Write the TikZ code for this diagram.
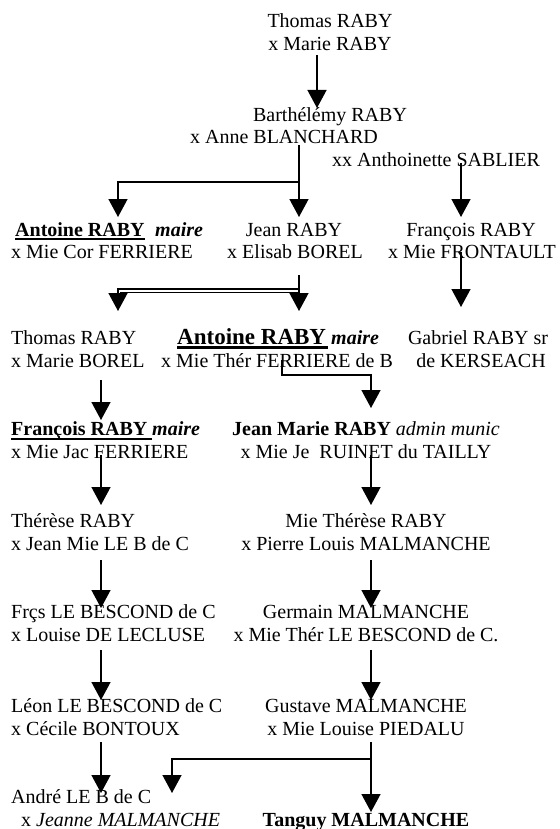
\documentclass[tikz,border=0pt]{standalone}
\usepackage{fontspec}
\setmainfont{Liberation Serif}
\newfontfamily\bigserif{Liberation Serif}
\usetikzlibrary{arrows.meta}
\begin{document}
\begin{tikzpicture}[x=1pt,y=-1pt,
  txt/.style={inner sep=0pt,font=\fontsize{20}{23}\selectfont},
  big/.style={inner sep=0pt,font=\bigserif\fontsize{23}{27}\selectfont\bfseries},
  arr/.style={line width=1.4pt,-{Triangle[width=19pt,length=18pt]}},
  uline/.style={line width=2pt}]
\useasboundingbox (0,0) rectangle (559,829);
% row 1
\node[txt,anchor=base] (n1a) at (330,28) {Thomas RABY};
\node[txt,anchor=base] (n1b) at (330,51) {x Marie RABY};
% row 2
\node[txt,anchor=base] (n2a) at (330,122) {Barthélémy RABY};
\node[txt,anchor=base] (n2b) at (284,144) {x Anne BLANCHARD};
\node[txt,anchor=base] (n2c) at (436,167) {xx Anthoinette SABLIER};
% row 3
\node[txt,anchor=base west] (n3a) at (15,236) {\textbf{Antoine RABY}};
\node[txt,anchor=base west] (n3am) at (155,236) {\textbf{\textit{maire}}};
\node[txt,anchor=base west] (n3b) at (11,258) {x Mie Cor FERRIERE};
\node[txt,anchor=base] (n3c) at (294,236) {Jean RABY};
\node[txt,anchor=base] (n3d) at (295,258) {x Elisab BOREL};
\node[txt,anchor=base] (n3e) at (471,236) {François RABY};
\node[txt,anchor=base] (n3f) at (472,258) {x Mie FRONTAULT};
% row 4
\node[txt,anchor=base west] (n4a) at (11,344) {Thomas RABY};
\node[txt,anchor=base west] (n4b) at (11,367) {x Marie BOREL};
\node[big,anchor=base west] (n4c) at (177,344) {Antoine RABY};
\node[txt,anchor=base west] (n4cm) at (331,344) {\textbf{\textit{maire}}};
\node[txt,anchor=base] (n4d) at (277,367) {x Mie Thér FERRIERE de B};
\node[txt,anchor=base] (n4e) at (478,344) {Gabriel RABY sr};
\node[txt,anchor=base] (n4f) at (481,367) {de KERSEACH};
% row 5
\node[txt,anchor=base west] (n5a) at (11,435) {\textbf{François RABY}};
\node[txt,anchor=base west] (n5am) at (152,435) {\textbf{\textit{maire}}};
\node[txt,anchor=base west] (n5b) at (11,458) {x Mie Jac FERRIERE};
\node[txt,anchor=base] (n5c) at (366,435) {\textbf{Jean Marie RABY} \textit{admin munic}};
\node[txt,anchor=base] (n5d) at (366,458) {x Mie Je\ \ RUINET du TAILLY};
% row 6
\node[txt,anchor=base west] (n6a) at (11,527) {Thérèse RABY};
\node[txt,anchor=base west] (n6b) at (11,550) {x Jean Mie LE B de C};
\node[txt,anchor=base] (n6c) at (366,527) {Mie Thérèse RABY};
\node[txt,anchor=base] (n6d) at (366,550) {x Pierre Louis MALMANCHE};
% row 7
\node[txt,anchor=base west] (n7a) at (11,618) {Frçs LE BESCOND de C};
\node[txt,anchor=base west] (n7b) at (11,641) {x Louise DE LECLUSE};
\node[txt,anchor=base] (n7c) at (366,618) {Germain MALMANCHE};
\node[txt,anchor=base] (n7d) at (366,641) {x Mie Thér LE BESCOND de C.};
% row 8
\node[txt,anchor=base west] (n8a) at (11,712) {Léon LE BESCOND de C};
\node[txt,anchor=base west] (n8b) at (11,735) {x Cécile BONTOUX};
\node[txt,anchor=base] (n8c) at (366,712) {Gustave MALMANCHE};
\node[txt,anchor=base] (n8d) at (366,735) {x Mie Louise PIEDALU};
% row 9
\node[txt,anchor=base west] (n9a) at (11,803) {André LE B de C};
\node[txt,anchor=base west] (n9b) at (21,826) {x \textit{Jeanne MALMANCHE}};
\node[txt,anchor=base] (n9c) at (366,826) {\textbf{Tanguy MALMANCHE}};
% underlines
\draw[uline] (15,238.5) -- (145,238.5);
\draw[uline,line width=2.5pt] (177,347.5) -- (328,347.5);
\draw[uline,line width=1.6pt] (11,439) -- (152,439);
% connector points
\coordinate (a1s) at (317,55);   \coordinate (a1e) at (317,108);
\coordinate (b1s) at (299,145);  \coordinate (b1m) at (299,182);
\coordinate (b1l) at (118,182);  \coordinate (b1le) at (118,217);
\coordinate (b1e) at (299,217);
\coordinate (c1s) at (461,163);  \coordinate (c1e) at (461,217);
\coordinate (d1s) at (299,275);  \coordinate (d1m) at (299,289);
\coordinate (d1l) at (118,289);  \coordinate (d1le) at (118,311);
\coordinate (d1e) at (299,311);
\coordinate (d2s) at (299,292);  \coordinate (d2l) at (120,292);
\coordinate (e1s) at (461,252);  \coordinate (e1e) at (461,307);
\coordinate (f1s) at (101,380);  \coordinate (f1e) at (101,420);
\coordinate (g1s) at (282,360);  \coordinate (g1m) at (282,375);
\coordinate (g1r) at (371,375);  \coordinate (g1e) at (371,408);
\coordinate (h1s) at (101,455);  \coordinate (h1e) at (101,505);
\coordinate (h2s) at (371,455);  \coordinate (h2e) at (371,505);
\coordinate (i1s) at (101,560);  \coordinate (i1e) at (101,608);
\coordinate (i2s) at (371,560);  \coordinate (i2e) at (371,608);
\coordinate (j1s) at (101,650);  \coordinate (j1e) at (101,700);
\coordinate (j2s) at (371,650);  \coordinate (j2e) at (371,700);
\coordinate (k1s) at (101,742);  \coordinate (k1e) at (101,793);
\coordinate (k2s) at (371,742);  \coordinate (k2e) at (371,812);
\coordinate (k2m) at (371,759);  \coordinate (k2l) at (172,759);
\coordinate (k2le) at (172,793);
% connectors
\draw[arr] (a1s) -- (a1e);
\draw[arr] (b1s) -- (b1e);
\draw[arr] (b1m) -- (b1l) -- (b1le);
\draw[arr] (c1s) -- (c1e);
\draw[arr] (d1s) -- (d1e);
\draw[arr] (d1m) -- (d1l) -- (d1le);
\draw[line width=1pt] (d2s) -- (d2l);
\draw[arr] (e1s) -- (e1e);
\draw[arr] (f1s) -- (f1e);
\draw[arr] (g1s) -- (g1m) -- (g1r) -- (g1e);
\draw[arr] (h1s) -- (h1e);
\draw[arr] (h2s) -- (h2e);
\draw[arr] (i1s) -- (i1e);
\draw[arr] (i2s) -- (i2e);
\draw[arr] (j1s) -- (j1e);
\draw[arr] (j2s) -- (j2e);
\draw[arr] (k1s) -- (k1e);
\draw[arr] (k2s) -- (k2e);
\draw[arr] (k2m) -- (k2l) -- (k2le);
\end{tikzpicture}
\end{document}
